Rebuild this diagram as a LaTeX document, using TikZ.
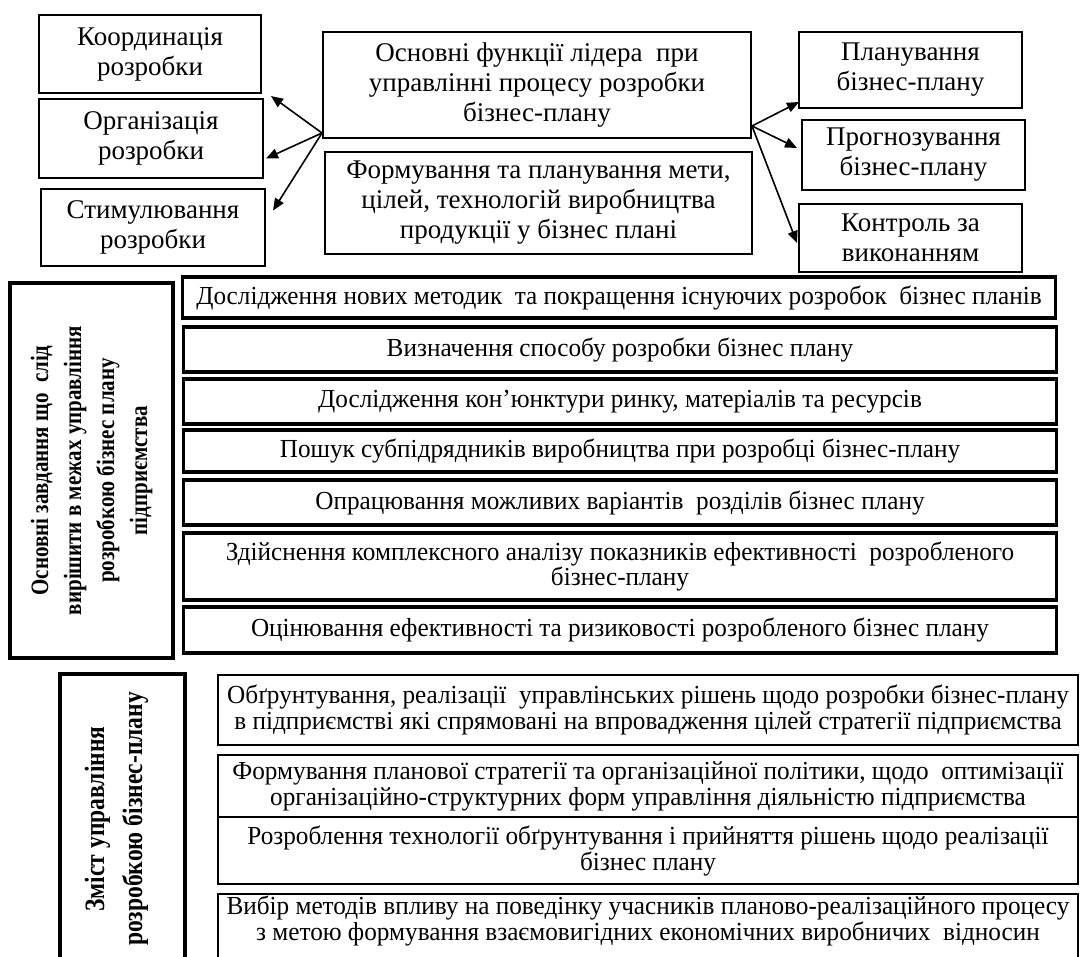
\documentclass[tikz,border=0pt]{standalone}
\usepackage{fontspec}
\setmainfont{Liberation Serif}
\newfontfamily\narrowfont[FakeStretch=0.97]{Liberation Serif}
\newfontfamily\labelfont[FakeStretch=0.84]{Liberation Serif}
\usetikzlibrary{arrows.meta}

\tikzset{
  funcbox/.style={draw,line width=2pt,inner sep=0pt,align=center,
    font=\fontsize{27}{30}\selectfont},
  taskbox/.style={draw,line width=3.2pt,inner sep=0pt,align=center,
    minimum width=873pt,font=\narrowfont\fontsize{26}{25}\selectfont},
  contentbox/.style={draw,line width=2pt,inner sep=0pt,align=center,
    minimum width=860pt,font=\narrowfont\fontsize{26}{26}\selectfont},
  sidebox/.style={draw,line width=3.5pt,inner sep=0pt,align=center},
  leadarrow/.style={-{Triangle[length=12pt,width=10pt]},line width=1.6pt}
}

\begin{document}
\begin{tikzpicture}[x=1pt,y=-1pt]
\clip (0,0) rectangle (1081,956);

% functions of the leader
\node[funcbox,minimum width=222pt,minimum height=78pt](coordination) at (150,54) {Координація\\розробки};
\node[funcbox,minimum width=224pt,minimum height=79pt](organisation) at (151,138.5) {Організація\\розробки};
\node[funcbox,minimum width=224pt,minimum height=77pt](stimulation) at (153,227.5) {Стимулювання\\розробки};

\node[funcbox,minimum width=428pt,minimum height=106pt](leader) at (537,85) {Основні функції лідера\ \ при\\управлінні процесу розробки\\бізнес-плану};
\node[funcbox,minimum width=427pt,minimum height=102pt](goals) at (538.5,203) {Формування та планування мети,\\цілей, технологій виробництва\\продукції у бізнес плані};

\node[funcbox,minimum width=223pt,minimum height=76pt](planning) at (910.5,70) {Планування\\бізнес-плану};
\node[funcbox,minimum width=223pt,minimum height=70pt](forecast) at (913.5,155) {Прогнозування\\бізнес-плану};
\node[funcbox,minimum width=223pt,minimum height=68pt,text depth=0pt](control) at (910.5,238) {Контроль за\\виконанням};

\draw[leadarrow] ([yshift=6pt]leader.south west) to ([xshift=9pt,yshift=-2pt]coordination.south east);
\draw[leadarrow] ([yshift=6pt]leader.south west) to ([xshift=2pt,yshift=-20pt]organisation.east);
\draw[leadarrow] ([yshift=6pt]leader.south west) to ([xshift=7pt,yshift=17pt]stimulation.east);

\draw[leadarrow] ([yshift=13pt]leader.south east) to ([xshift=1pt,yshift=7pt]planning.south west);
\draw[leadarrow] ([yshift=13pt]leader.south east) to ([xshift=-4pt,yshift=7pt]forecast.west);
\draw[leadarrow] ([yshift=13pt]leader.south east) to ([xshift=-1pt,yshift=-5pt]control.west);

% main tasks
\node[sidebox,minimum width=375pt,minimum height=163pt,rotate=90,
  font=\labelfont\bfseries\fontsize{25}{33}\selectfont](tasks) at (91.5,470.5)
  {Основні завдання що\ \ слід\\вирішити в межах управління\\розробкою бізнес плану\\підприємства};

\node[taskbox,minimum height=41pt](task one) at (619,297.5) {Дослідження нових методик\ \ та покращення існуючих розробок\ \ бізнес планів};
\node[taskbox,minimum height=45pt](task two) at (620,349.5) {Визначення способу розробки бізнес плану};
\node[taskbox,minimum height=45pt](task three) at (620,401.5) {Дослідження кон’юнктури ринку, матеріалів та ресурсів};
\node[taskbox,minimum height=42pt](task four) at (620,451) {Пошук субпідрядників виробництва при розробці бізнес-плану};
\node[taskbox,minimum height=45pt](task five) at (620,502.5) {Опрацювання можливих варіантів\ \ розділів бізнес плану};
\node[taskbox,minimum height=67pt](task six) at (620,566.5) {Здійснення комплексного аналізу показників ефективності\ \ розробленого\\бізнес-плану};
\node[taskbox,minimum height=46pt](task seven) at (620,630) {Оцінювання ефективності та ризиковості розробленого бізнес плану};

% content of management
\node[sidebox,minimum width=290pt,minimum height=125pt,rotate=90,text depth=18pt,
  font=\labelfont\bfseries\fontsize{28}{38}\selectfont](content) at (122.5,819)
  {Зміст управління\\розробкою бізнес-плану};

\node[contentbox,minimum height=70pt](content one) at (648,710) {Обґрунтування, реалізації\ \ управлінських рішень щодо розробки бізнес-плану\\в підприємстві які спрямовані на впровадження цілей стратегії підприємства};
\node[contentbox,minimum height=62pt](content two) at (648,786) {Формування планової стратегії та організаційної політики, щодо\ \ оптимізації\\організаційно-структурних форм управління діяльністю підприємства};
\node[contentbox,minimum height=67pt](content three) at (648,850.5) {Розроблення технології обґрунтування і прийняття рішень щодо реалізації\\бізнес плану};
\node[contentbox,minimum height=82pt,anchor=north](content four) at (648,893) {Вибір методів впливу на поведінку учасників планово-реалізаційного процесу\\з метою формування взаємовигідних економічних виробничих\ \ відносин\\\strut};

\end{tikzpicture}
\end{document}
